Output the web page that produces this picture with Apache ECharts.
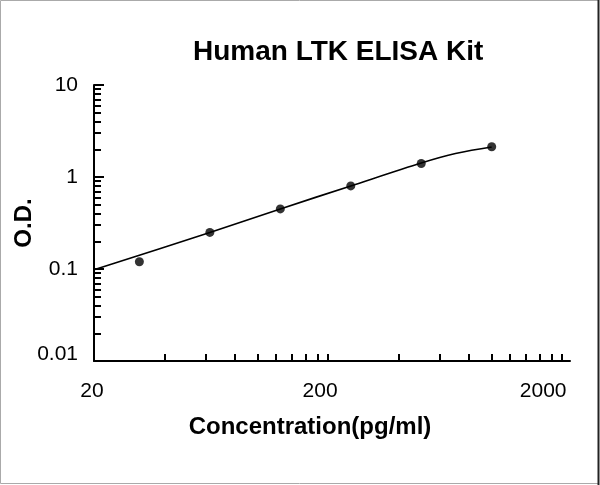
<!DOCTYPE html>
<html>
<head>
<meta charset="utf-8">
<script src="https://cdn.jsdelivr.net/npm/echarts@6/dist/echarts.min.js"></script>
<style>
html,body{margin:0;padding:0;background:#fff;}
#chart{width:600px;height:485px;}
</style>
</head>
<body>
<div id="chart"></div>
<script>
// Standards (measured points)
var concentration = [31.25, 62.5, 125, 250, 500, 1000];
var odValues = [0.12, 0.25, 0.45, 0.8, 1.4, 2.13];
// Fitted curve
var curveConc = [20, 62.5, 125, 250, 500, 700, 1000];
var curveOD = [0.098, 0.25, 0.45, 0.8, 1.42, 1.8, 2.12];
// Axis ticks and labels
var xTickLabels = [20, 200, 2000];
var xMinorTicks = [40, 60, 80, 100, 120, 140, 160, 180, 200, 400, 600, 800, 1000, 1200, 1400, 1600, 1800, 2000];
var yTickLabels = [0.01, 0.1, 1, 10];
var yMinorTicks = [0.02, 0.03, 0.04, 0.05, 0.06, 0.07, 0.08, 0.09, 0.2, 0.3, 0.4, 0.5, 0.6, 0.7, 0.8, 0.9, 2, 3, 4, 5, 6, 7, 8, 9];

var chart = echarts.init(document.getElementById('chart'), null, {renderer: 'canvas'});
var font = '"Liberation Sans", Arial, sans-serif';

function pairs(xs, ys) { return xs.map(function (x, i) { return [x, ys[i]]; }); }

var option = {
  backgroundColor: '#ffffff',
  animation: false,
  title: {
    text: 'Human LTK ELISA Kit',
    left: 193, top: 38, padding: 0,
    textStyle: {fontFamily: font, fontSize: 28, fontWeight: 'bold', color: '#000'}
  },
  grid: {left: 94, right: 30, top: 85, bottom: 124, outerBoundsMode: 'none'},
  xAxis: {
    type: 'log', logBase: 10, min: 20, max: 2160,
    name: 'Concentration(pg/ml)', nameLocation: 'middle', nameGap: 54, nameMoveOverlap: false,
    nameTextStyle: {fontFamily: font, fontSize: 24, fontWeight: 'bold', color: '#000', padding: [0, 44, 0, 0]},
    axisLine: {show: true, lineStyle: {color: '#000', width: 2}},
    axisTick: {show: true, inside: true, length: 7, lineStyle: {color: '#000', width: 2}, customValues: xMinorTicks},
    axisLabel: {
      show: true, margin: 20, customValues: xTickLabels,
      fontFamily: font, fontSize: 21, color: '#000',
      formatter: function (v) {
        var s = String(Math.round(v));
        if (s === '200') return '{b|' + s + '}';
        if (s === '2000') return '{c|' + s + '}';
        return '{a|' + s + '}';
      },
      rich: {
        a: {fontFamily: font, fontSize: 21, color: '#000', padding: [0, 4, 0, 0]},
        b: {fontFamily: font, fontSize: 21, color: '#000', padding: [0, 16, 0, 0]},
        c: {fontFamily: font, fontSize: 21, color: '#000', padding: [0, 38, 0, 0]}
      }
    },
    splitLine: {show: false}, minorTick: {show: false}, minorSplitLine: {show: false}
  },
  yAxis: [{
    type: 'log', logBase: 10, min: 0.01, max: 10,
    name: 'O.D.', nameLocation: 'middle', nameGap: 58, nameRotate: 90, nameMoveOverlap: false,
    nameTextStyle: {fontFamily: font, fontSize: 24, fontWeight: 'bold', color: '#000'},
    axisLine: {show: true, lineStyle: {color: '#000', width: 2}},
    axisTick: {show: true, inside: true, length: 10, lineStyle: {color: '#000', width: 2}, customValues: yTickLabels},
    axisLabel: {
      show: true, margin: 16, customValues: yTickLabels,
      fontFamily: font, fontSize: 21, color: '#000',
      formatter: function (v) {
        var s = v >= 1 ? String(Math.round(v)) : String(+v.toPrecision(3));
        if (s === '0.01') return '{d|' + s + '}';
        return '{e|' + s + '}';
      },
      rich: {
        d: {fontFamily: font, fontSize: 21, color: '#000', padding: [0, 0, 14, 0]},
        e: {fontFamily: font, fontSize: 21, color: '#000'}
      }
    },
    splitLine: {show: false}
  }, {
    type: 'log', logBase: 10, min: 0.01, max: 10, position: 'left', offset: 0,
    axisLine: {show: false},
    axisTick: {show: true, inside: true, length: 7, lineStyle: {color: '#000', width: 2}, customValues: yMinorTicks},
    axisLabel: {show: false},
    splitLine: {show: false}
  }],
  series: [{
    type: 'line',
    data: pairs(curveConc, curveOD),
    smooth: 0.3,
    showSymbol: false,
    symbol: 'none',
    lineStyle: {color: '#000', width: 1.6},
    z: 2
  }, {
    type: 'scatter',
    data: pairs(concentration, odValues),
    symbol: 'circle', symbolSize: 9,
    itemStyle: {color: '#000'},
    z: 3
  }],
  graphic: [{
    type: 'rect', shape: {x: 0.5, y: 0.5, width: 598, height: 483},
    style: {fill: null, stroke: '#aaa', lineWidth: 1}, silent: true
  }, {
    type: 'line', shape: {x1: 598.5, y1: 0, x2: 598.5, y2: 485},
    style: {stroke: '#222', lineWidth: 2}, silent: true
  }]
};
chart.setOption(option);
</script>
</body>
</html>
